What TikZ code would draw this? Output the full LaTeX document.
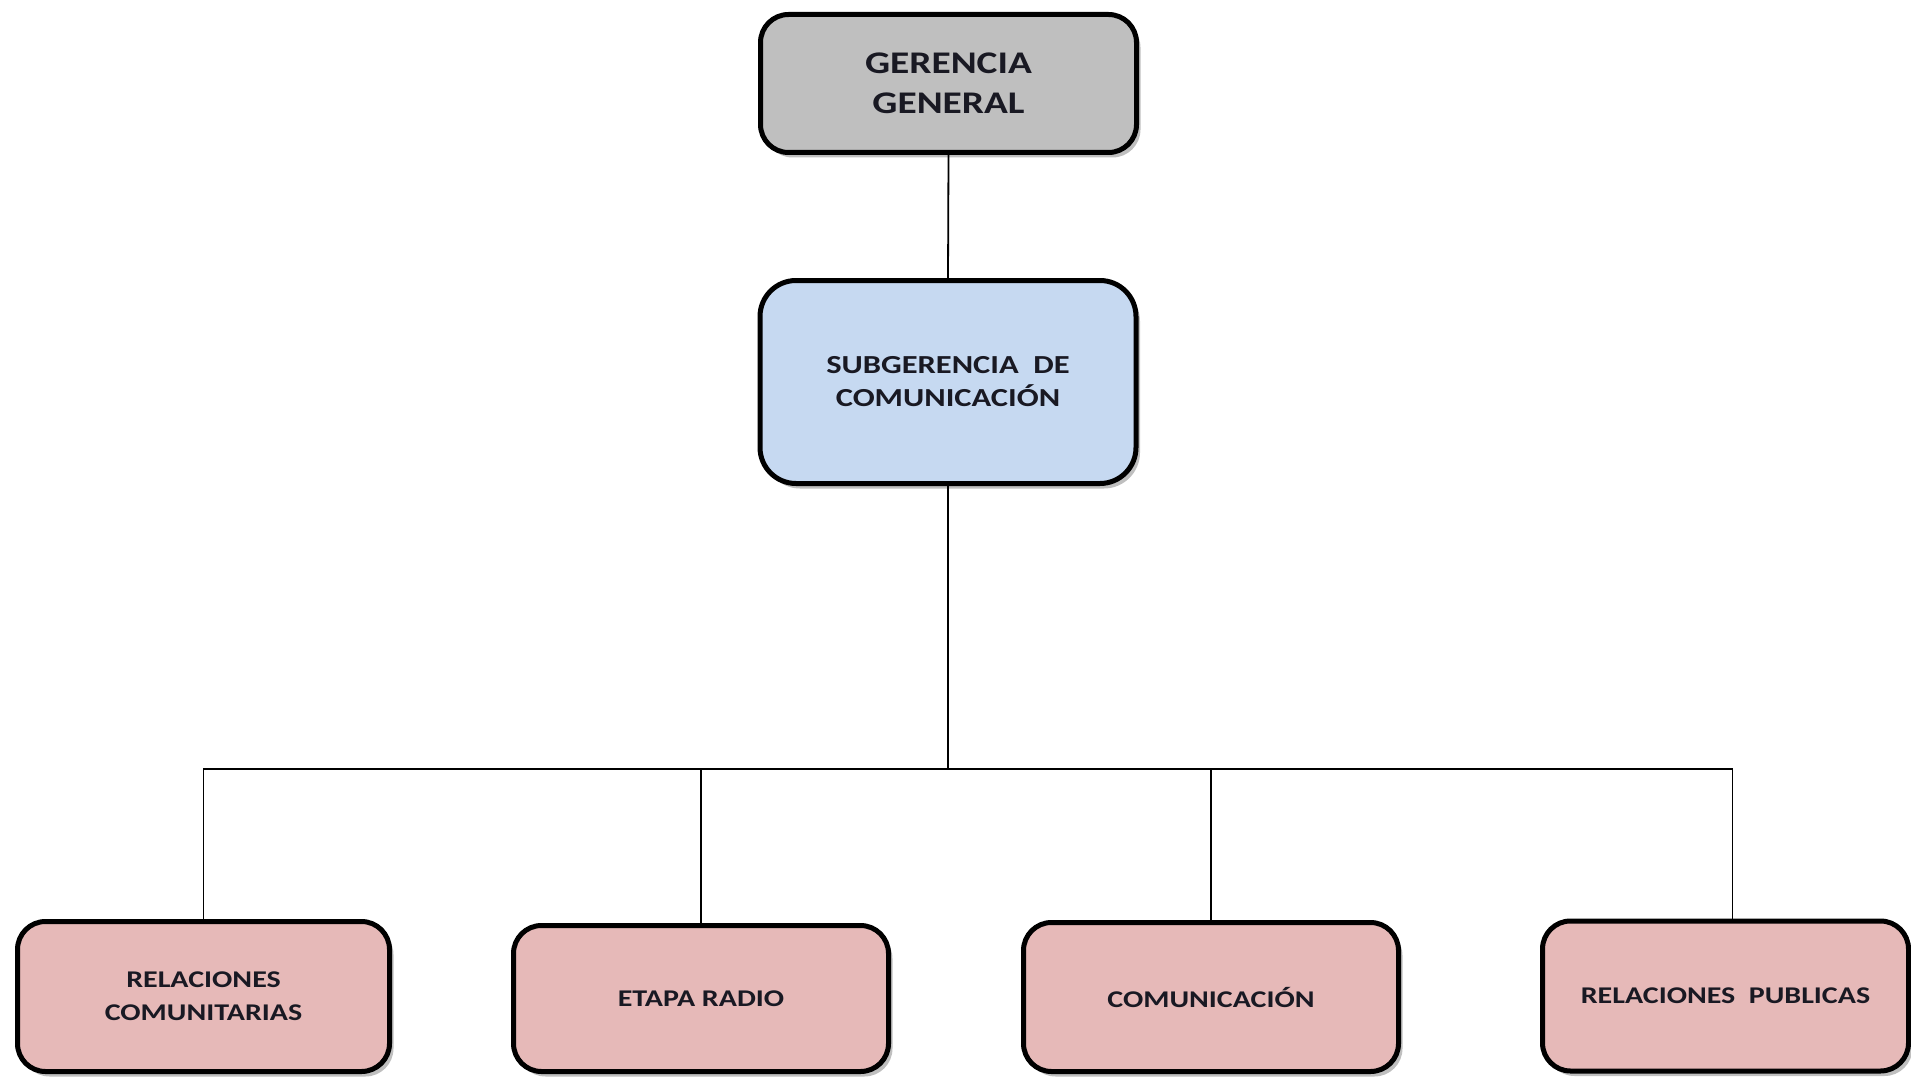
\documentclass[tikz,border=0pt]{standalone}
\usepackage{fontspec}
\setmainfont{Carlito}
\newfontfamily\boxfont[FakeStretch=1.25]{Carlito}
\usetikzlibrary{shadows}
\definecolor{topgray}{RGB}{191,191,191}
\definecolor{midblue}{RGB}{198,217,241}
\definecolor{pinkbox}{RGB}{230,185,184}
\definecolor{txt}{RGB}{25,25,35}
\tikzset{
  orgbox/.style={draw=black, line width=5pt, rounded corners=28pt, align=center,
    text=txt, inner sep=0pt,
    drop shadow={shadow xshift=4pt, shadow yshift=-5pt, opacity=0.25, fill=black}},
  conn/.style={draw=black, line width=1.8pt}
}
\begin{document}
\begin{tikzpicture}[x=1pt,y=-1pt]
\useasboundingbox (0,0) rectangle (1911,1078);
\node[orgbox, fill=topgray, minimum width=376pt, minimum height=138pt,
  font=\boxfont\bfseries\fontsize{31.5}{40}\selectfont] (gg) at (948.5,83.5) {GERENCIA\\GENERAL};
\node[orgbox, fill=midblue, minimum width=376pt, minimum height=203pt, rounded corners=36pt,
  font=\boxfont\bfseries\fontsize{26}{33}\selectfont] (sub) at (948,382) {SUBGERENCIA\ \ DE\\COMUNICACIÓN};
\node[orgbox, fill=pinkbox, minimum width=372pt, minimum height=150pt,
  font=\boxfont\bfseries\fontsize{24}{33}\selectfont] (b1) at (203.5,996.5) {RELACIONES\\COMUNITARIAS};
\node[orgbox, fill=pinkbox, minimum width=375pt, minimum height=146pt,
  font=\boxfont\bfseries\fontsize{24}{33}\selectfont] (b2) at (701,998.5) {ETAPA RADIO};
\node[orgbox, fill=pinkbox, minimum width=375pt, minimum height=149pt,
  font=\boxfont\bfseries\fontsize{24}{33}\selectfont] (b3) at (1211,997) {COMUNICACIÓN};
\node[orgbox, fill=pinkbox, minimum width=366pt, minimum height=150pt,
  font=\boxfont\bfseries\fontsize{24}{33}\selectfont] (b4) at (1725.5,996) {RELACIONES\ \ PUBLICAS};
\coordinate (bus) at (949,769);
\draw[conn] (gg.south) -- (sub.north);
\draw[conn] (sub.south) -- (sub.south |- bus);
\draw[conn] (b1.north) -- (b1.north |- bus) -- ([xshift=7pt]b4.north |- bus) -- ([xshift=7pt]b4.north);
\draw[conn] (b2.north) -- (b2.north |- bus);
\draw[conn] (b3.north) -- (b3.north |- bus);
\end{tikzpicture}
\end{document}
